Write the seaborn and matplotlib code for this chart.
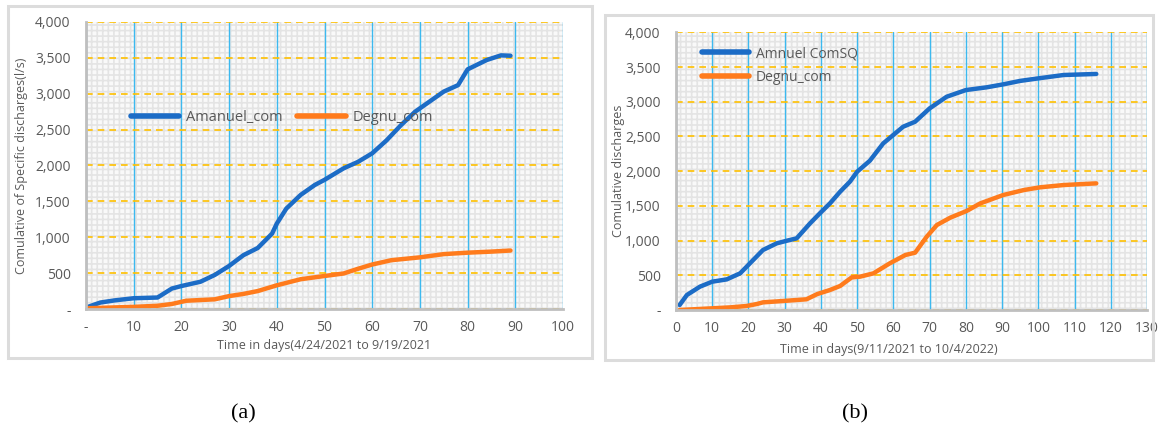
import numpy as np
import pandas as pd
import matplotlib
matplotlib.use('Agg')
import matplotlib.pyplot as plt
import seaborn as sns
from matplotlib.ticker import MultipleLocator, FuncFormatter
from matplotlib.patches import Rectangle

# panel (a): 4/24/2021 to 9/19/2021
a_amanuel_days = [0, 3, 6, 10, 15, 18, 20, 24, 27, 30, 33, 36, 39, 40, 42, 45, 48, 50,
                  54, 57, 60, 63, 66, 69, 72, 75, 78, 80, 84, 87, 89]
a_amanuel_q = [20, 90, 120, 150, 160, 285, 320, 380, 475, 600, 750, 850, 1050, 1190, 1400,
               1590, 1730, 1800, 1960, 2050, 2170, 2350, 2560, 2750, 2890, 3030, 3120, 3340,
               3470, 3535, 3530]
a_degnu_days = [0, 5, 10, 15, 18, 21, 24, 27, 30, 33, 36, 40, 45, 50, 54, 57, 60, 64, 70,
                75, 80, 85, 89]
a_degnu_q = [10, 20, 30, 45, 70, 115, 125, 135, 180, 210, 250, 330, 415, 460, 495, 560,
             620, 680, 720, 765, 785, 800, 815]
a_labels = ['Amanuel_com', 'Degnu_com']

# panel (b): 9/11/2021 to 10/4/2022
b_amnuel_days = [1, 3, 6.6, 10, 14, 17.7, 20.4, 24, 27.8, 30.6, 33.3, 37, 39.7, 42.5, 45.3,
                 48, 50, 53.5, 57.2, 62.7, 66, 70, 74.7, 80, 85.7, 90.3, 95, 100.5, 107, 116]
b_amnuel_q = [72, 216, 336, 408, 441, 528, 672, 864, 960, 998, 1032, 1248, 1392, 1536, 1704,
              1848, 1992, 2150, 2400, 2640, 2712, 2904, 3072, 3168, 3207, 3250, 3300, 3340,
              3385, 3400]
b_degnu_days = [1, 15, 19.5, 22.3, 24, 29.6, 36, 39, 42.5, 45.3, 48.5, 50.8, 54.5, 59, 63.3,
                66, 69.2, 72, 75.7, 80.2, 84, 90.3, 96, 100.5, 107, 116]
b_degnu_q = [0, 38, 58, 86, 110, 130, 154, 230, 288, 346, 470, 480, 528, 672, 792, 826,
             1056, 1224, 1330, 1426, 1536, 1656, 1728, 1767, 1800, 1824]
b_labels = ['Amnuel ComSQ', 'Degnu_com']

BLUE = '#1c6cc6'
ORANGE = '#ff7b1c'
GREY_TXT = '#595959'

sns.set_theme(style='white')
plt.rcParams['font.family'] = ['Open Sans', 'DejaVu Sans']
plt.rcParams['hatch.linewidth'] = 1.2
plt.rcParams['hatch.color'] = '#e4e4e4'

W, H = 1164, 430
fig = plt.figure(figsize=(W / 100, H / 100), dpi=100)

# panel frames (pixel boxes)
for x0, y0, x1, y1 in [(8, 6, 592, 358), (605, 15, 1153, 360)]:
    fig.patches.append(Rectangle((x0 / W, 1 - y1 / H), (x1 - x0) / W, (y1 - y0) / H,
                                 transform=fig.transFigure, fill=False,
                                 edgecolor='#dcdcdc', lw=2.2))

ax_a = fig.add_axes([86 / W, 1 - 309 / H, 477 / W, 287 / H])
ax_b = fig.add_axes([676 / W, 1 - 310 / H, 471 / W, 277.7 / H])


def fmt_y(v, p):
    return '-' if v == 0 else f'{int(v):,}'


def style_axes(ax, xmax, zero_dash):
    ax.set_facecolor('#f9f9f9')
    # excel-like pattern fill behind the grid
    ax.add_patch(Rectangle((0, 0), 1, 1, transform=ax.transAxes, facecolor='none',
                           edgecolor='#e4e4e4', hatch='+++', lw=0, zorder=0.1))
    ax.set_xlim(0, xmax)
    ax.set_ylim(0, 4000)
    ax.xaxis.set_major_locator(MultipleLocator(10))
    ax.yaxis.set_major_locator(MultipleLocator(500))
    ax.set_axisbelow(True)
    ax.grid(axis='x', which='major', color='#3cb9ef', lw=1.0, ls='-')
    ax.grid(axis='y', which='major', color='#ffc000', lw=1.2, ls=(0, (4, 3)))
    ax.yaxis.set_major_formatter(FuncFormatter(fmt_y))
    if zero_dash:
        ax.xaxis.set_major_formatter(FuncFormatter(lambda v, p: '-' if v == 0 else f'{int(v)}'))
    for s in ['top', 'right']:
        ax.spines[s].set_visible(False)
    for s in ['left', 'bottom']:
        ax.spines[s].set_color('#bfbfbf')
        ax.spines[s].set_linewidth(2)
    ax.tick_params(which='both', length=0, labelsize=10, labelcolor=GREY_TXT)
    ax.tick_params(axis='x', pad=8)
    ax.tick_params(axis='y', pad=11)


def draw(ax, d1, q1, d2, q2, labels):
    df = pd.concat([
        pd.DataFrame({'day': d1, 'q': q1, 'series': labels[0]}),
        pd.DataFrame({'day': d2, 'q': q2, 'series': labels[1]}),
    ])
    sns.lineplot(data=df, x='day', y='q', hue='series', palette=[BLUE, ORANGE],
                 estimator=None, lw=3.2, ax=ax)


# (a)
style_axes(ax_a, 100, True)
draw(ax_a, a_amanuel_days, a_amanuel_q, a_degnu_days, a_degnu_q, a_labels)
ax_a.set_xlabel('Time in days(4/24/2021 to 9/19/2021', fontsize=9, color=GREY_TXT)
ax_a.set_ylabel('Comulative of Specific discharges(l/s)', fontsize=9, color=GREY_TXT)
ax_a.xaxis.set_label_coords(0.499, -0.105)
ax_a.yaxis.set_label_coords(-0.1216, 0.498)
leg = ax_a.legend(loc='center left', bbox_to_anchor=(0.094, 0.666), ncol=2, frameon=False,
                  handlelength=3.3, handletextpad=0.5, columnspacing=1.0, fontsize=10.5,
                  borderpad=0, borderaxespad=0)
for t in leg.get_texts():
    t.set_color(GREY_TXT)
for ln in leg.get_lines():
    ln.set_linewidth(4)

# (b)
style_axes(ax_b, 130, False)
draw(ax_b, b_amnuel_days, b_amnuel_q, b_degnu_days, b_degnu_q, b_labels)
ax_b.set_xlabel('Time in days(9/11/2021 to 10/4/2022)', fontsize=9, color=GREY_TXT)
ax_b.set_ylabel('Comulative discharges', fontsize=9, color=GREY_TXT)
ax_b.xaxis.set_label_coords(0.452, -0.119)
ax_b.yaxis.set_label_coords(-0.108, 0.5)
leg = ax_b.legend(loc='upper left', bbox_to_anchor=(0.055, 0.95), ncol=1, frameon=False,
                  handlelength=3.4, handletextpad=0.5, labelspacing=0.65, fontsize=10,
                  borderpad=0, borderaxespad=0)
for t in leg.get_texts():
    t.set_color(GREY_TXT)
for ln in leg.get_lines():
    ln.set_linewidth(4)

fig.text(243 / W, 1 - 414 / H, '(a)', family=['Liberation Serif', 'DejaVu Serif'],
         fontsize=16, ha='center', va='center', color='black')
fig.text(855 / W, 1 - 414 / H, '(b)', family=['Liberation Serif', 'DejaVu Serif'],
         fontsize=16, ha='center', va='center', color='black')

fig.savefig('out.png', dpi=100)
